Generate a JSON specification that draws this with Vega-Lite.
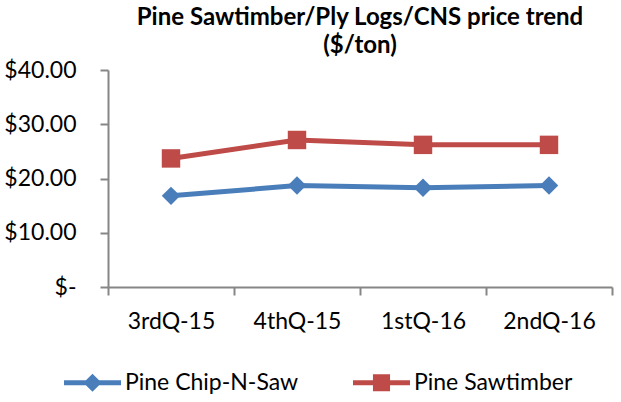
{
  "$schema": "https://vega.github.io/schema/vega-lite/v6.json",
  "width": 504,
  "height": 217,
  "autosize": "none",
  "padding": {"left": 108, "top": 70, "right": 9, "bottom": 115},
  "background": "white",
  "title": {
    "text": ["Pine Sawtimber/Ply Logs/CNS price trend", "($/ton)"],
    "font": "Lato",
    "fontSize": 24,
    "fontWeight": "bold",
    "color": "#000000",
    "anchor": "middle",
    "lineHeight": 28,
    "offset": 1
  },
  "config": {
    "view": {"stroke": null},
    "font": "Lato"
  },
  "data": {
    "values": [
      {"quarter": "3rdQ-15", "series": "Pine Chip-N-Saw", "price": 16.8},
      {"quarter": "4thQ-15", "series": "Pine Chip-N-Saw", "price": 18.7},
      {"quarter": "1stQ-16", "series": "Pine Chip-N-Saw", "price": 18.3},
      {"quarter": "2ndQ-16", "series": "Pine Chip-N-Saw", "price": 18.7},
      {"quarter": "3rdQ-15", "series": "Pine Sawtimber", "price": 23.7},
      {"quarter": "4thQ-15", "series": "Pine Sawtimber", "price": 27.1},
      {"quarter": "1stQ-16", "series": "Pine Sawtimber", "price": 26.2},
      {"quarter": "2ndQ-16", "series": "Pine Sawtimber", "price": 26.2}
    ]
  },
  "encoding": {
    "x": {
      "field": "quarter",
      "type": "nominal",
      "sort": ["3rdQ-15", "4thQ-15", "1stQ-16", "2ndQ-16"],
      "scale": {"type": "band", "paddingInner": 0, "paddingOuter": 0},
      "axis": {
        "title": null,
        "labelAngle": 0,
        "labelFont": "Lato",
        "labelFontSize": 23,
        "labelColor": "#000000",
        "labelBaseline": "alphabetic",
        "labelPadding": 33,
        "tickBand": "extent",
        "tickSize": 8,
        "tickColor": "#868686",
        "tickWidth": 2,
        "domainColor": "#868686",
        "domainWidth": 2,
        "grid": false
      }
    },
    "y": {
      "field": "price",
      "type": "quantitative",
      "scale": {"domain": [0, 40], "nice": false},
      "axis": {
        "title": null,
        "values": [0, 10, 20, 30, 40],
        "labelExpr": "datum.value == 0 ? '$-' : '$' + format(datum.value, '.2f')",
        "labelFont": "Lato",
        "labelFontSize": 23,
        "labelColor": "#000000",
        "labelPadding": 24,
        "tickSize": 8,
        "tickColor": "#868686",
        "tickWidth": 2,
        "domainColor": "#868686",
        "domainWidth": 2,
        "grid": false
      }
    },
    "color": {
      "field": "series",
      "type": "nominal",
      "scale": {"domain": ["Pine Chip-N-Saw", "Pine Sawtimber"], "range": ["#4A7EBB", "#BE4B48"]},
      "legend": {
        "title": null,
        "orient": "none",
        "direction": "horizontal",
        "legendX": -44,
        "legendY": 284,
        "padding": 0,
        "symbolSize": 3249,
        "symbolType": "square",
        "labelOffset": 4,
        "columnPadding": 54,
        "labelFont": "Lato",
        "labelFontSize": 23,
        "labelColor": "#000000",
        "labelLimit": 400,
        "encode": {
          "symbols": {
            "update": {
              "shape": {"signal": "datum.value === 'Pine Chip-N-Saw' ? 'M-1,-0.085H1V0.085H-1Z M0,-0.32L0.32,0L0,0.32L-0.32,0Z' : 'M-1,-0.085H1V0.085H-1Z M-0.3,-0.3H0.3V0.3H-0.3Z'"},
              "strokeWidth": {"value": 0},
              "opacity": {"value": 1}
            }
          }
        }
      }
    }
  },
  "layer": [
    {
      "mark": {"type": "line", "strokeWidth": 5},
      "encoding": {}
    },
    {
      "transform": [{"filter": "datum.series === 'Pine Chip-N-Saw'"}],
      "mark": {"type": "point", "filled": true, "opacity": 1, "size": 340, "shape": "diamond"},
      "encoding": {}
    },
    {
      "transform": [{"filter": "datum.series === 'Pine Sawtimber'"}],
      "mark": {"type": "point", "filled": true, "opacity": 1, "size": 340, "shape": "square"},
      "encoding": {}
    }
  ]
}
